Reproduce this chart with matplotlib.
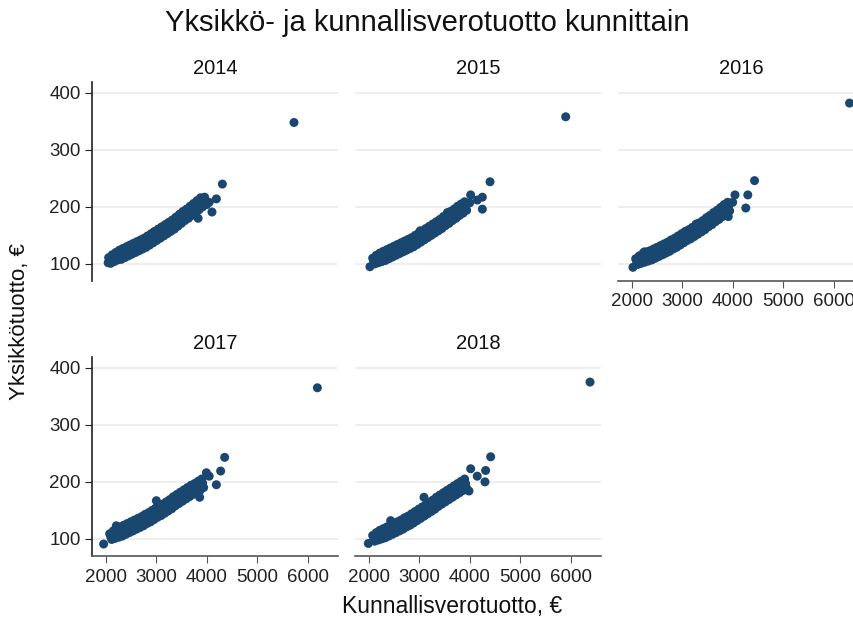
import matplotlib
matplotlib.use("Agg")
import matplotlib.pyplot as plt

plt.rcParams['font.family'] = ['Liberation Sans', 'DejaVu Sans']

years = ["2014", "2015", "2016", "2017", "2018"]

x2014 = [2060, 2130, 2200, 2270, 2340, 2410, 2480, 2550, 2620, 2690, 2760, 2830, 2900, 2970,
         3040, 3110, 3180, 3250, 3320, 3390, 3460, 3530, 3600, 3670, 3740, 3810, 3880,
         2080, 2150, 2220, 2290, 2360, 2430, 2500, 2570, 2640, 2710, 2780, 2850, 2920, 2990,
         3060, 3130, 3200, 3270, 3340, 3410, 3480, 3550, 3620, 3690, 3760, 3830, 3900,
         2100, 2170, 2240, 2310, 2380, 2450, 2520, 2590, 2660, 2730, 2800, 2870, 2940, 3010,
         3080, 3150, 3220, 3290, 3360, 3430, 3500, 3570, 3640, 3710, 3780, 3850, 3920,
         2050, 2230, 2960, 3830, 4000, 4050, 3960, 4105, 4192, 4311, 5729]
y2014 = [111, 116, 120, 124, 127, 130, 133, 136, 139, 142, 145, 149, 153, 157,
         161, 165, 169, 173, 177, 182, 187, 192, 196, 201, 206, 211, 216,
         106, 110, 113, 116, 119, 122, 125, 128, 131, 134, 137, 141, 145, 149,
         153, 157, 161, 165, 169, 174, 179, 184, 188, 193, 198, 203, 208,
         101, 104, 107, 108, 111, 114, 117, 120, 123, 126, 129, 133, 137, 141,
         145, 149, 153, 157, 161, 166, 171, 176, 180, 185, 190, 195, 200,
         102, 118, 156, 180, 204, 208, 217, 191, 214, 240, 348]

x2015 = [2080, 2150, 2220, 2290, 2360, 2430, 2500, 2570, 2640, 2710, 2780, 2850, 2920, 2990,
         3060, 3130, 3200, 3270, 3340, 3410, 3480, 3550, 3620, 3690, 3760, 3830, 3900,
         2100, 2170, 2240, 2310, 2380, 2450, 2520, 2590, 2660, 2730, 2800, 2870, 2940, 3010,
         3080, 3150, 3220, 3290, 3360, 3430, 3500, 3570, 3640, 3710, 3780, 3850, 3920,
         2120, 2190, 2260, 2330, 2400, 2470, 2540, 2610, 2680, 2750, 2820, 2890, 2960, 3030,
         3100, 3170, 3240, 3310, 3380, 3450, 3520, 3590, 3660, 3730, 3800, 3870, 3940,
         2026, 3020, 3560, 4020, 4000, 4150, 4251, 4251, 4403, 5901]
y2015 = [110, 115, 119, 122, 125, 128, 131, 134, 137, 140, 143, 146, 150, 154,
         158, 162, 166, 170, 174, 178, 183, 187, 192, 196, 201, 205, 209,
         105, 108, 111, 114, 117, 120, 123, 126, 129, 132, 135, 138, 142, 146,
         150, 154, 158, 162, 166, 170, 175, 179, 184, 188, 193, 197, 202,
         100, 102, 104, 106, 109, 112, 115, 118, 121, 124, 127, 130, 134, 138,
         142, 146, 150, 154, 158, 162, 167, 171, 176, 180, 185, 189, 194,
         95, 158, 190, 221, 207, 212, 217, 196, 244, 358]

x2016 = [2080, 2150, 2220, 2290, 2360, 2430, 2500, 2570, 2640, 2710, 2780, 2850, 2920, 2990,
         3060, 3130, 3200, 3270, 3340, 3410, 3480, 3550, 3620, 3690, 3760, 3830, 3900,
         2100, 2170, 2240, 2310, 2380, 2450, 2520, 2590, 2660, 2730, 2800, 2870, 2940, 3010,
         3080, 3150, 3220, 3290, 3360, 3430, 3500, 3570, 3640, 3710, 3780, 3850, 3920,
         2120, 2190, 2260, 2330, 2400, 2470, 2540, 2610, 2680, 2750, 2820, 2890, 2960, 3030,
         3100, 3170, 3240, 3310, 3380, 3450, 3520, 3590, 3660, 3730, 3800, 3870, 3940,
         2026, 2250, 3280, 3913, 4000, 4046, 4260, 4300, 4433, 6314]
y2016 = [109, 114, 118, 121, 123, 126, 129, 132, 135, 138, 142, 145, 149, 153,
         157, 160, 164, 168, 172, 176, 181, 185, 190, 194, 199, 204, 208,
         104, 107, 110, 113, 115, 118, 121, 124, 127, 130, 134, 137, 141, 145,
         149, 152, 156, 160, 164, 168, 173, 177, 182, 186, 191, 196, 201,
         99, 101, 103, 105, 107, 110, 113, 116, 119, 122, 126, 129, 133, 137,
         141, 144, 148, 152, 156, 160, 165, 169, 174, 178, 183, 188, 193,
         94, 121, 170, 183, 208, 221, 198, 221, 246, 382]

x2017 = [2080, 2150, 2220, 2290, 2360, 2430, 2500, 2570, 2640, 2710, 2780, 2850, 2920, 2990,
         3060, 3130, 3200, 3270, 3340, 3410, 3480, 3550, 3620, 3690, 3760, 3830, 3900,
         2100, 2170, 2240, 2310, 2380, 2450, 2520, 2590, 2660, 2730, 2800, 2870, 2940, 3010,
         3080, 3150, 3220, 3290, 3360, 3430, 3500, 3570, 3640, 3710, 3780, 3850, 3920,
         2120, 2190, 2260, 2330, 2400, 2470, 2540, 2610, 2680, 2750, 2820, 2890, 2960, 3030,
         3100, 3170, 3240, 3310, 3380, 3450, 3520, 3590, 3660, 3730, 3800, 3870, 3940,
         1960, 2211, 3004, 3861, 3994, 4050, 4192, 4277, 4356, 6192]
y2017 = [109, 114, 118, 121, 124, 127, 130, 133, 136, 139, 143, 146, 150, 154,
         157, 161, 165, 169, 174, 178, 182, 186, 190, 194, 197, 201, 205,
         104, 107, 110, 113, 116, 119, 122, 125, 128, 131, 135, 138, 142, 146,
         149, 153, 157, 161, 166, 170, 174, 178, 182, 186, 189, 193, 198,
         99, 101, 103, 105, 108, 111, 114, 117, 120, 123, 127, 130, 134, 138,
         141, 145, 149, 153, 158, 162, 166, 170, 174, 178, 181, 185, 190,
         91, 123, 167, 173, 216, 210, 195, 219, 243, 365]

x2018 = [2080, 2150, 2220, 2290, 2360, 2430, 2500, 2570, 2640, 2710, 2780, 2850, 2920, 2990,
         3060, 3130, 3200, 3270, 3340, 3410, 3480, 3550, 3620, 3690, 3760, 3830, 3900,
         2100, 2170, 2240, 2310, 2380, 2450, 2520, 2590, 2660, 2730, 2800, 2870, 2940, 3010,
         3080, 3150, 3220, 3290, 3360, 3430, 3500, 3570, 3640, 3710, 3780, 3850, 3920,
         2120, 2190, 2260, 2330, 2400, 2470, 2540, 2610, 2680, 2750, 2820, 2890, 2960, 3030,
         3100, 3170, 3240, 3310, 3380, 3450, 3520, 3590, 3660, 3730, 3800, 3870, 3940,
         1994, 2436, 3096, 3986, 4020, 4150, 4303, 4316, 4416, 6383]
y2018 = [106, 111, 115, 118, 121, 124, 127, 130, 133, 137, 140, 144, 148, 152,
         156, 160, 164, 168, 173, 177, 181, 185, 189, 193, 197, 201, 205,
         101, 104, 107, 110, 113, 116, 119, 122, 125, 129, 132, 136, 140, 144,
         148, 152, 156, 160, 165, 169, 173, 177, 181, 185, 189, 193, 197,
         96, 98, 100, 102, 105, 108, 111, 114, 117, 121, 124, 128, 132, 136,
         140, 144, 148, 152, 157, 161, 165, 169, 173, 177, 181, 185, 189,
         92, 132, 173, 184, 223, 210, 200, 220, 244, 375]

xs = [x2014, x2015, x2016, x2017, x2018]
ys = [y2014, y2015, y2016, y2017, y2018]

x_ticks = [2000, 3000, 4000, 5000, 6000]
y_ticks = [100, 200, 300, 400]

title = "Yksikkö- ja kunnallisverotuotto kunnittain"
xlabel = "Kunnallisverotuotto, €"
ylabel = "Yksikkötuotto, €"

W, H = 854, 621
fig = plt.figure(figsize=(W / 100, H / 100), dpi=100)
fig.patch.set_facecolor("white")

def rect(l, t, w, h):
    return [l / W, 1 - (t + h) / H, w / W, h / H]

pos = [(92, 82), (355, 82), (618, 82), (92, 357), (355, 357)]
show_y = [True, False, False, True, False]
show_x = [False, False, True, True, True]
color = "#1a476f"

for i, yr in enumerate(years):
    l, t = pos[i]
    ax = fig.add_axes(rect(l, t, 246, 199))
    ax.set_xlim(1730, 6600)
    ax.set_ylim(70, 419)
    ax.set_yticks(y_ticks)
    ax.set_xticks(x_ticks)
    ax.grid(axis="y", color="#eeeeee", linewidth=1.5)
    ax.set_axisbelow(True)
    for s in ["top", "right"]:
        ax.spines[s].set_visible(False)
    ax.spines["left"].set_visible(show_y[i])
    ax.spines["bottom"].set_visible(show_x[i])
    ax.spines["left"].set_color("#222222")
    ax.spines["bottom"].set_color("#555555")
    ax.spines["left"].set_linewidth(1.2)
    ax.spines["bottom"].set_linewidth(1.2)
    ax.tick_params(axis="y", left=show_y[i], labelleft=show_y[i], length=5,
                   color="#222222", labelsize=13.5, pad=3, labelcolor="#222222")
    ax.tick_params(axis="x", bottom=show_x[i], labelbottom=show_x[i], length=5,
                   color="#555555", labelsize=13.5, pad=4, labelcolor="#222222")
    ax.scatter(xs[i], ys[i], s=42, color=color, edgecolors="none", zorder=3,
               clip_on=False)
    ax.set_title(yr, fontsize=14.5, pad=6, color="#111111")

fig.text(427 / W, 1 - 23 / H, title, ha="center", va="center", fontsize=21,
         color="#111111")
fig.text(452 / W, 1 - 607 / H, xlabel, ha="center", va="center", fontsize=16.5,
         color="#111111")
fig.text(20 / W, 1 - 322 / H, ylabel, ha="center", va="center", fontsize=16,
         rotation=90, color="#111111")

fig.savefig("out.png", dpi=100, facecolor="white")
